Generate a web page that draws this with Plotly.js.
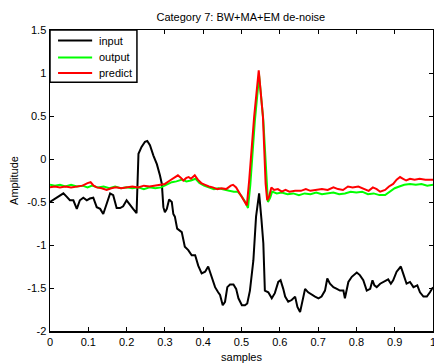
<!DOCTYPE html>
<html>
<head>
<meta charset="utf-8">
<script src="https://cdn.plot.ly/plotly-3.0.1.min.js"></script>
<style>html,body{margin:0;padding:0;background:#fff;}#chart{width:434px;height:363px;}</style>
</head>
<body>
<div id="chart"></div>
<script>
const inputX = [0,0.013,0.026,0.035,0.044,0.052,0.061,0.070,0.078,0.087,0.096,0.104,0.113,0.122,0.131,0.139,0.148,0.157,0.165,0.174,0.183,0.191,0.200,0.209,0.217,0.226,0.231,0.239,0.248,0.254,0.261,0.270,0.279,0.287,0.292,0.296,0.300,0.305,0.311,0.318,0.322,0.326,0.332,0.344,0.352,0.361,0.370,0.379,0.387,0.396,0.405,0.413,0.422,0.431,0.439,0.444,0.451,0.457,0.463,0.470,0.479,0.486,0.492,0.501,0.509,0.515,0.522,0.531,0.538,0.546,0.552,0.557,0.561,0.570,0.579,0.587,0.596,0.602,0.609,0.614,0.622,0.631,0.640,0.646,0.653,0.659,0.666,0.674,0.683,0.692,0.701,0.709,0.718,0.724,0.731,0.740,0.749,0.757,0.766,0.770,0.779,0.788,0.801,0.809,0.818,0.827,0.836,0.842,0.847,0.853,0.862,0.875,0.883,0.890,0.896,0.905,0.916,0.922,0.931,0.940,0.949,0.959,0.966,0.975,0.984,0.992,1.0];
const inputY = [-0.50,-0.46,-0.42,-0.40,-0.44,-0.48,-0.48,-0.58,-0.48,-0.45,-0.48,-0.46,-0.45,-0.56,-0.58,-0.64,-0.52,-0.40,-0.42,-0.57,-0.57,-0.55,-0.48,-0.54,-0.58,-0.63,0.06,0.14,0.20,0.21,0.16,0.04,-0.06,-0.19,-0.29,-0.56,-0.62,-0.58,-0.47,-0.50,-0.64,-0.67,-0.81,-0.85,-1.02,-1.06,-1.12,-1.12,-1.24,-1.33,-1.31,-1.25,-1.37,-1.49,-1.55,-1.58,-1.70,-1.66,-1.49,-1.46,-1.46,-1.51,-1.62,-1.70,-1.70,-1.68,-1.53,-1.18,-0.67,-0.40,-0.70,-0.98,-1.53,-1.55,-1.62,-1.56,-1.43,-1.41,-1.51,-1.60,-1.66,-1.64,-1.60,-1.72,-1.78,-1.64,-1.51,-1.55,-1.58,-1.60,-1.62,-1.60,-1.53,-1.39,-1.45,-1.49,-1.51,-1.53,-1.53,-1.62,-1.43,-1.37,-1.32,-1.35,-1.41,-1.53,-1.51,-1.41,-1.47,-1.49,-1.45,-1.42,-1.40,-1.45,-1.41,-1.31,-1.25,-1.33,-1.45,-1.43,-1.49,-1.47,-1.55,-1.60,-1.60,-1.55,-1.49];

const outputX = [0,0.013,0.026,0.040,0.055,0.070,0.085,0.098,0.110,0.125,0.140,0.155,0.170,0.185,0.200,0.215,0.230,0.245,0.260,0.275,0.290,0.305,0.318,0.330,0.345,0.356,0.368,0.380,0.390,0.402,0.415,0.428,0.440,0.455,0.468,0.480,0.490,0.500,0.510,0.517,0.523,0.535,0.546,0.557,0.565,0.569,0.575,0.580,0.592,0.605,0.620,0.635,0.650,0.665,0.680,0.695,0.710,0.725,0.740,0.755,0.770,0.785,0.800,0.815,0.830,0.845,0.860,0.875,0.888,0.900,0.912,0.925,0.940,0.955,0.970,0.985,1.0];
const outputY = [-0.30,-0.31,-0.30,-0.32,-0.30,-0.32,-0.31,-0.33,-0.31,-0.33,-0.32,-0.34,-0.32,-0.34,-0.33,-0.34,-0.33,-0.35,-0.33,-0.34,-0.33,-0.30,-0.27,-0.26,-0.24,-0.26,-0.25,-0.23,-0.28,-0.31,-0.33,-0.35,-0.34,-0.36,-0.37,-0.38,-0.38,-0.43,-0.50,-0.57,-0.30,0.45,0.97,0.45,-0.30,-0.50,-0.45,-0.38,-0.40,-0.39,-0.41,-0.40,-0.42,-0.40,-0.41,-0.39,-0.41,-0.40,-0.39,-0.41,-0.40,-0.38,-0.39,-0.38,-0.41,-0.40,-0.42,-0.42,-0.38,-0.34,-0.32,-0.30,-0.29,-0.30,-0.29,-0.31,-0.30];

const predictX = [0,0.013,0.026,0.040,0.055,0.070,0.085,0.098,0.106,0.114,0.122,0.135,0.148,0.160,0.172,0.186,0.200,0.215,0.230,0.245,0.260,0.275,0.290,0.300,0.313,0.325,0.334,0.342,0.348,0.356,0.362,0.368,0.378,0.386,0.395,0.405,0.415,0.425,0.437,0.448,0.460,0.472,0.478,0.486,0.496,0.506,0.514,0.520,0.533,0.545,0.556,0.563,0.567,0.572,0.578,0.585,0.595,0.605,0.615,0.625,0.640,0.655,0.668,0.680,0.695,0.710,0.725,0.740,0.752,0.765,0.778,0.790,0.805,0.820,0.832,0.843,0.853,0.862,0.875,0.885,0.896,0.905,0.914,0.922,0.930,0.940,0.952,0.965,0.980,1.0];
const predictY = [-0.33,-0.32,-0.33,-0.32,-0.33,-0.32,-0.31,-0.28,-0.27,-0.31,-0.33,-0.34,-0.36,-0.34,-0.33,-0.34,-0.33,-0.32,-0.33,-0.31,-0.32,-0.31,-0.30,-0.29,-0.25,-0.22,-0.19,-0.22,-0.25,-0.22,-0.21,-0.23,-0.19,-0.24,-0.28,-0.30,-0.32,-0.33,-0.35,-0.34,-0.35,-0.31,-0.30,-0.33,-0.40,-0.48,-0.54,-0.25,0.49,1.03,0.49,-0.29,-0.48,-0.44,-0.33,-0.36,-0.35,-0.38,-0.36,-0.38,-0.37,-0.37,-0.35,-0.37,-0.36,-0.35,-0.36,-0.33,-0.35,-0.36,-0.32,-0.33,-0.32,-0.35,-0.37,-0.33,-0.35,-0.38,-0.36,-0.32,-0.29,-0.24,-0.21,-0.23,-0.25,-0.23,-0.24,-0.23,-0.24,-0.24];

const seriesNames = ['input', 'output', 'predict'];
const seriesColors = ['#000000', '#00ff00', '#ff0000'];

const xTicks = [0,0.1,0.2,0.3,0.4,0.5,0.6,0.7,0.8,0.9,1];
const xTickText = ['0','0.1','0.2','0.3','0.4','0.5','0.6','0.7','0.8','0.9','1'];
const yTicks = [-2,-1.5,-1,-0.5,0,0.5,1,1.5];
const yTickText = ['-2','-1.5','-1','-0.5','0','0.5','1','1.5'];

const font = {family: 'Liberation Sans, Arial, sans-serif', size: 11, color: '#000'};

const seriesX = [inputX, outputX, predictX];
const seriesY = [inputY, outputY, predictY];
const traces = seriesNames.map((n, i) => ({
  x: seriesX[i], y: seriesY[i], name: n, mode: 'lines',
  line: {color: seriesColors[i], width: 2}
}));

// Manual MATLAB-style legend (paper coordinates)
const legendRowsY = [0.965, 0.909, 0.857];
const shapes = [{
  type: 'rect', xref: 'paper', yref: 'paper', x0: 0, x1: 0.227, y0: 0.826, y1: 1,
  line: {color: '#000', width: 1.5}, fillcolor: '#fff', layer: 'above'
}];
const annotations = [];
seriesNames.forEach((n, i) => {
  shapes.push({type: 'line', xref: 'paper', yref: 'paper', x0: 0.021, x1: 0.110,
    y0: legendRowsY[i], y1: legendRowsY[i], line: {color: seriesColors[i], width: 2}, layer: 'above'});
  annotations.push({xref: 'paper', yref: 'paper', x: 0.122, y: legendRowsY[i], text: n,
    showarrow: false, xanchor: 'left', yanchor: 'middle', font: font});
});

const layout = {
  width: 434, height: 363,
  margin: {l: 50, r: 1, t: 30, b: 32},
  paper_bgcolor: '#fff', plot_bgcolor: '#fff',
  font: font,
  showlegend: false,
  shapes: shapes,
  annotations: annotations,
  title: {text: 'Category 7: BW+MA+EM de-noise', font: {family: font.family, size: 11, color: '#000'}, x: 0.555, xanchor: 'center', y: 0.953, yanchor: 'middle'},
  xaxis: {
    range: [0, 1], tickvals: xTicks, ticktext: xTickText,
    ticks: 'inside', ticklen: 4, tickcolor: '#000', mirror: 'ticks',
    showline: true, linecolor: '#000', linewidth: 1.5,
    showgrid: false, zeroline: false, ticklabeloverflow: 'allow',
    tickfont: font,
    title: {text: 'samples', font: font, standoff: 6}
  },
  yaxis: {
    range: [-2, 1.5], tickvals: yTicks, ticktext: yTickText,
    ticks: 'inside', ticklen: 4, tickcolor: '#000', mirror: 'ticks',
    showline: true, linecolor: '#000', linewidth: 1.5,
    showgrid: false, zeroline: false,
    tickfont: font,
    title: {text: 'Amplitude', font: font, standoff: 6}
  }
};

Plotly.newPlot('chart', traces, layout, {displayModeBar: false, staticPlot: true});
</script>
</body>
</html>
